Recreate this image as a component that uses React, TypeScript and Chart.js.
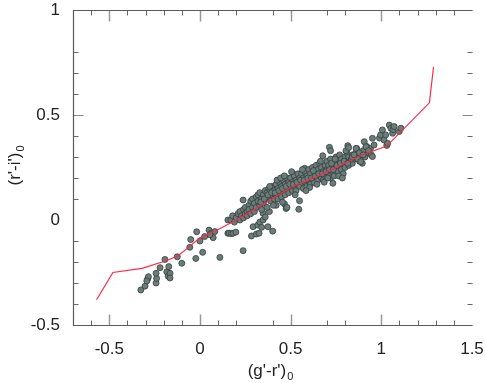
import React, { useEffect, useRef } from "react";
import { Chart, registerables } from "chart.js";

Chart.register(...registerables);

// Stellar locus (red line)
const locusGR = [-0.57, -0.48, -0.32, -0.19, -0.12, -0.07, 0.0, 0.09, 0.2, 0.33, 0.5, 0.7, 0.88, 1.03, 1.265, 1.288];
const locusRI = [-0.38, -0.25, -0.23, -0.195, -0.17, -0.135, -0.085, -0.05, 0.0, 0.065, 0.155, 0.228, 0.305, 0.352, 0.558, 0.73];

// Blue tail of the star sample
const tailGR = [-0.326, -0.303, -0.288, -0.284, -0.293, -0.242, -0.239, -0.242, -0.22, -0.193, -0.183, -0.175, -0.165, -0.172, -0.165, -0.125, -0.1, -0.051, -0.056, -0.023, -0.018, 0.0, 0.015, 0.026, 0.05, 0.063, 0.073, 0.082, 0.055, 0.11, 0.154, 0.154];
const tailRI = [-0.333, -0.315, -0.28, -0.27, -0.29, -0.3, -0.278, -0.254, -0.227, -0.188, -0.247, -0.268, -0.254, -0.222, -0.276, -0.175, -0.206, -0.093, -0.13, -0.183, -0.056, -0.1, -0.154, -0.079, -0.048, -0.063, -0.084, -0.055, -0.07, -0.178, 0.0, -0.063];

// Lower branch and scattered points around the band
const strayGR = [0.161, 0.174, 0.183, 0.198, 0.238, 0.238, 0.284, 0.293, 0.311, 0.326, 0.319, 0.33, 0.34, 0.348, 0.348, 0.36, 0.375, 0.383, 0.401, 0.42, 0.466, 0.475, 0.48, 0.512, 0.545, 0.549, 0.577, 0.677, 0.714, 0.72, 0.733];
const strayRI = [-0.063, -0.065, -0.063, -0.058, 0.095, -0.146, -0.076, -0.032, -0.067, -0.063, -0.024, -0.01, -0.035, 0.0, 0.032, 0.015, -0.032, 0.04, -0.053, 0.07, 0.076, 0.055, 0.06, 0.222, 0.051, 0.092, 0.246, 0.306, 0.346, 0.33, 0.175];

// Dense main band
const bandGR = [
  0.17, 0.18, 0.19, 0.2, 0.21, 0.22, 0.22, 0.23, 0.24, 0.24, 0.25, 0.25, 0.26, 0.26, 0.27, 0.27, 0.28, 0.28, 0.29, 0.29,
  0.3, 0.3, 0.31, 0.31, 0.32, 0.32, 0.33, 0.33, 0.34, 0.34, 0.35, 0.35, 0.36, 0.36, 0.37, 0.37, 0.38, 0.38, 0.39, 0.39,
  0.4, 0.4, 0.41, 0.41, 0.42, 0.42, 0.43, 0.43, 0.44, 0.44, 0.45, 0.45, 0.46, 0.46, 0.47, 0.47, 0.48, 0.48, 0.49, 0.49,
  0.5, 0.5, 0.51, 0.51, 0.52, 0.52, 0.53, 0.53, 0.54, 0.54, 0.55, 0.55, 0.56, 0.56, 0.57, 0.57, 0.58, 0.58, 0.59, 0.59,
  0.6, 0.6, 0.61, 0.61, 0.62, 0.62, 0.63, 0.63, 0.64, 0.64, 0.65, 0.65, 0.66, 0.66, 0.67, 0.67, 0.68, 0.68, 0.69, 0.69,
  0.7, 0.7, 0.71, 0.71, 0.72, 0.72, 0.73, 0.73, 0.74, 0.74, 0.75, 0.75, 0.76, 0.76, 0.77, 0.77, 0.78, 0.78, 0.79, 0.79,
  0.8, 0.8, 0.81, 0.81, 0.82, 0.82, 0.83, 0.84, 0.84, 0.85, 0.86, 0.87, 0.88, 0.89, 0.9, 0.91, 0.92, 0.93, 0.94,
  0.335, 0.355, 0.375, 0.395, 0.415, 0.435, 0.455, 0.475, 0.495, 0.515, 0.535, 0.555, 0.575, 0.595, 0.615, 0.635, 0.655,
  0.675, 0.695, 0.715, 0.735, 0.755, 0.775, 0.795, 0.815, 0.835, 0.855, 0.605, 0.645, 0.685, 0.725, 0.765, 0.625, 0.705, 0.745,
  0.385, 0.425, 0.445, 0.405, 0.465, 0.505, 0.565, 0.585, 0.665, 0.785, 0.805, 0.865, 0.895, 0.455, 0.525,
];
const bandRI = [
  0.0, 0.02, -0.01, 0.01, 0.03, 0.0, 0.04, 0.02, 0.05, 0.01, 0.03, 0.06, 0.04, 0.02, 0.07, 0.05, 0.03, 0.09, 0.06, 0.1,
  0.04, 0.08, 0.11, 0.06, 0.09, 0.12, 0.07, 0.13, 0.1, 0.05, 0.12, 0.08, 0.14, 0.1, 0.06, 0.13, 0.11, 0.15, 0.09, 0.14,
  0.12, 0.16, 0.1, 0.14, 0.17, 0.12, 0.15, 0.1, 0.18, 0.13, 0.16, 0.11, 0.19, 0.14, 0.17, 0.12, 0.15, 0.2, 0.18, 0.13,
  0.16, 0.2, 0.14, 0.18, 0.21, 0.16, 0.19, 0.14, 0.17, 0.22, 0.2, 0.16, 0.18, 0.22, 0.15, 0.2, 0.23, 0.18, 0.21, 0.16,
  0.19, 0.24, 0.22, 0.17, 0.2, 0.25, 0.18, 0.23, 0.21, 0.26, 0.19, 0.24, 0.22, 0.27, 0.2, 0.25, 0.23, 0.19, 0.26, 0.21,
  0.24, 0.28, 0.22, 0.26, 0.29, 0.2, 0.25, 0.23, 0.27, 0.21, 0.3, 0.25, 0.23, 0.28, 0.26, 0.31, 0.24, 0.29, 0.27, 0.22,
  0.3, 0.25, 0.28, 0.32, 0.26, 0.3, 0.28, 0.31, 0.27, 0.29, 0.32, 0.3, 0.28, 0.31, 0.33, 0.3, 0.35, 0.32, 0.34,
  0.085, 0.1, 0.12, 0.13, 0.13, 0.14, 0.15, 0.16, 0.17, 0.17, 0.18, 0.19, 0.19, 0.2, 0.2, 0.21, 0.22,
  0.22, 0.23, 0.24, 0.24, 0.26, 0.27, 0.28, 0.27, 0.29, 0.3, 0.155, 0.17, 0.18, 0.27, 0.21, 0.235, 0.2, 0.29,
  0.16, 0.19, 0.2, 0.07, 0.21, 0.23, 0.24, 0.14, 0.28, 0.2, 0.33, 0.34, 0.27, 0.085, 0.12,
];

// Red end of the sample
const redGR = [0.815, 0.82, 0.84, 0.85, 0.861, 0.87, 0.88, 0.887, 0.9, 0.906, 0.915, 0.93, 0.945, 0.951, 0.951, 0.96, 0.99, 0.996, 1.006, 1.015, 1.024, 1.03, 1.035, 1.044, 1.053, 1.062, 1.065, 1.071, 1.099, 1.108];
const redRI = [0.354, 0.345, 0.3, 0.31, 0.341, 0.29, 0.32, 0.278, 0.31, 0.373, 0.349, 0.33, 0.31, 0.302, 0.389, 0.357, 0.39, 0.405, 0.429, 0.381, 0.405, 0.355, 0.365, 0.452, 0.437, 0.413, 0.43, 0.445, 0.421, 0.437];

const xTickLabels = [-0.5, 0, 0.5, 1, 1.5];
const yTickLabels = [-0.5, 0, 0.5, 1];
const xMajorMarks = [-0.5, 0, 0.5, 1];
const xMinorMarks = [-0.6, -0.4, -0.3, -0.2, -0.1, 0.1, 0.2, 0.4, 0.7, 0.8, 1.1, 1.2, 1.3, 1.4];
const yMajorMarks = [0.5];
const yMinorMarks = [0.8, 0.7, 0.6, 0.4, 0.3, 0.2, 0.1, -0.1, -0.2, -0.3, -0.4];

const FONT = "'Liberation Sans', Arial, sans-serif";

function pairs(xs: number[], ys: number[]) {
  return xs.map((x, i) => ({ x, y: ys[i] }));
}

const framePlugin = {
  id: "frame",
  afterDraw(chart: any) {
    const { ctx, chartArea } = chart;
    const xs = chart.scales.x;
    const ys = chart.scales.y;
    const L = Math.round(chartArea.left) + 0.5;
    const R = Math.round(chartArea.right) + 0.5;
    const T = Math.round(chartArea.top) + 0.5;
    const B = Math.round(chartArea.bottom) + 0.5;
    ctx.save();
    const drawX = (vals: number[], len: number, color: string, w: number) => {
      ctx.strokeStyle = color;
      ctx.lineWidth = w;
      ctx.beginPath();
      vals.forEach((v) => {
        const p = Math.round(xs.getPixelForValue(v)) + 0.5;
        ctx.moveTo(p, B);
        ctx.lineTo(p, B - len);
        ctx.moveTo(p, T);
        ctx.lineTo(p, T + len);
      });
      ctx.stroke();
    };
    const drawY = (vals: number[], len: number, color: string, w: number) => {
      ctx.strokeStyle = color;
      ctx.lineWidth = w;
      ctx.beginPath();
      vals.forEach((v) => {
        const p = Math.round(ys.getPixelForValue(v)) + 0.5;
        ctx.moveTo(L, p);
        ctx.lineTo(L + len, p);
        ctx.moveTo(R, p);
        ctx.lineTo(R - len, p);
      });
      ctx.stroke();
    };
    drawX(xMinorMarks, 5, "#666", 1);
    drawX(xMajorMarks, 11, "#999", 1.5);
    drawY(yMinorMarks, 5, "#666", 1);
    drawY(yMajorMarks, 10, "#888", 1.2);
    ctx.strokeStyle = "#5a5a5a";
    ctx.lineWidth = 1.2;
    ctx.beginPath();
    ctx.moveTo(R, T);
    ctx.lineTo(L, T);
    ctx.lineTo(L, B);
    ctx.lineTo(R, B);
    ctx.stroke();

    ctx.fillStyle = "#222";
    ctx.textBaseline = "alphabetic";
    ctx.textAlign = "left";
    const mainFont = `17px ${FONT}`;
    const subFont = `11px ${FONT}`;
    ctx.font = mainFont;
    const xm = "(g'-r')";
    const w1 = ctx.measureText(xm).width;
    ctx.font = subFont;
    const w2 = ctx.measureText("0").width;
    const cx = (chartArea.left + chartArea.right) / 2 - 2;
    const sx = cx - (w1 + w2 + 1) / 2;
    ctx.font = mainFont;
    ctx.fillText(xm, sx, 376);
    ctx.font = subFont;
    ctx.fillText("0", sx + w1 + 1, 380);
    ctx.translate(20, (chartArea.top + chartArea.bottom) / 2 - 2);
    ctx.rotate(-Math.PI / 2);
    ctx.font = mainFont;
    const ym = "(r'-i')";
    const v1 = ctx.measureText(ym).width;
    const sy = -(v1 + w2 + 1) / 2;
    ctx.fillText(ym, sy, 0);
    ctx.font = subFont;
    ctx.fillText("0", sy + v1 + 1, 4);
    ctx.restore();
  },
};

export default function App() {
  const ref = useRef<HTMLCanvasElement | null>(null);
  useEffect(() => {
    document.body.style.margin = "0";
    document.body.style.overflow = "hidden";
    const canvas = ref.current!;
    const stars = [
      ...pairs(tailGR, tailRI),
      ...pairs(strayGR, strayRI),
      ...pairs(bandGR, bandRI),
      ...pairs(redGR, redRI),
    ];
    const chart = new Chart(canvas, {
      type: "scatter",
      data: {
        datasets: [
          {
            label: "locus",
            data: pairs(locusGR, locusRI),
            showLine: true,
            borderColor: "#ff2848",
            borderWidth: 1.2,
            pointRadius: 0,
            tension: 0,
            order: 0,
          } as any,
          {
            label: "stars",
            data: stars,
            pointRadius: 3,
            pointBackgroundColor: "#6c7c79",
            pointBorderColor: "#34403e",
            pointBorderWidth: 0.8,
            showLine: false,
            order: 1,
          } as any,
        ],
      },
      options: {
        responsive: false,
        animation: false,
        events: [],
        layout: { padding: { left: 0, top: 10, right: 13, bottom: 0 } },
        plugins: { legend: { display: false }, tooltip: { enabled: false } },
        scales: {
          x: {
            type: "linear",
            min: -0.7,
            max: 1.5,
            afterBuildTicks: (s: any) => {
              s.ticks = xTickLabels.map((v) => ({ value: v }));
            },
            afterFit: (s: any) => {
              s.height = 58;
              s.paddingLeft = 0;
              s.paddingRight = 0;
              s.paddingTop = 0;
              s.paddingBottom = 0;
            },
            grid: { display: false, drawTicks: false },
            border: { display: false },
            ticks: {
              autoSkip: false,
              maxRotation: 0,
              padding: 14,
              color: "#222",
              font: { family: FONT, size: 17 },
              callback: (v: any) => String(v),
            },
          },
          y: {
            type: "linear",
            min: -0.5,
            max: 1,
            afterBuildTicks: (s: any) => {
              s.ticks = yTickLabels.map((v) => ({ value: v }));
            },
            afterFit: (s: any) => {
              s.width = 73;
              s.paddingLeft = 0;
              s.paddingRight = 0;
              s.paddingTop = 0;
              s.paddingBottom = 0;
            },
            grid: { display: false, drawTicks: false },
            border: { display: false },
            ticks: {
              autoSkip: false,
              padding: 13,
              color: "#222",
              font: { family: FONT, size: 17 },
              callback: (v: any) => String(v),
            },
          },
        },
      },
      plugins: [framePlugin],
    });
    return () => chart.destroy();
  }, []);
  return (
    <canvas
      ref={ref}
      width={485}
      height={383}
      style={{ display: "block", width: 485, height: 383 }}
    />
  );
}
